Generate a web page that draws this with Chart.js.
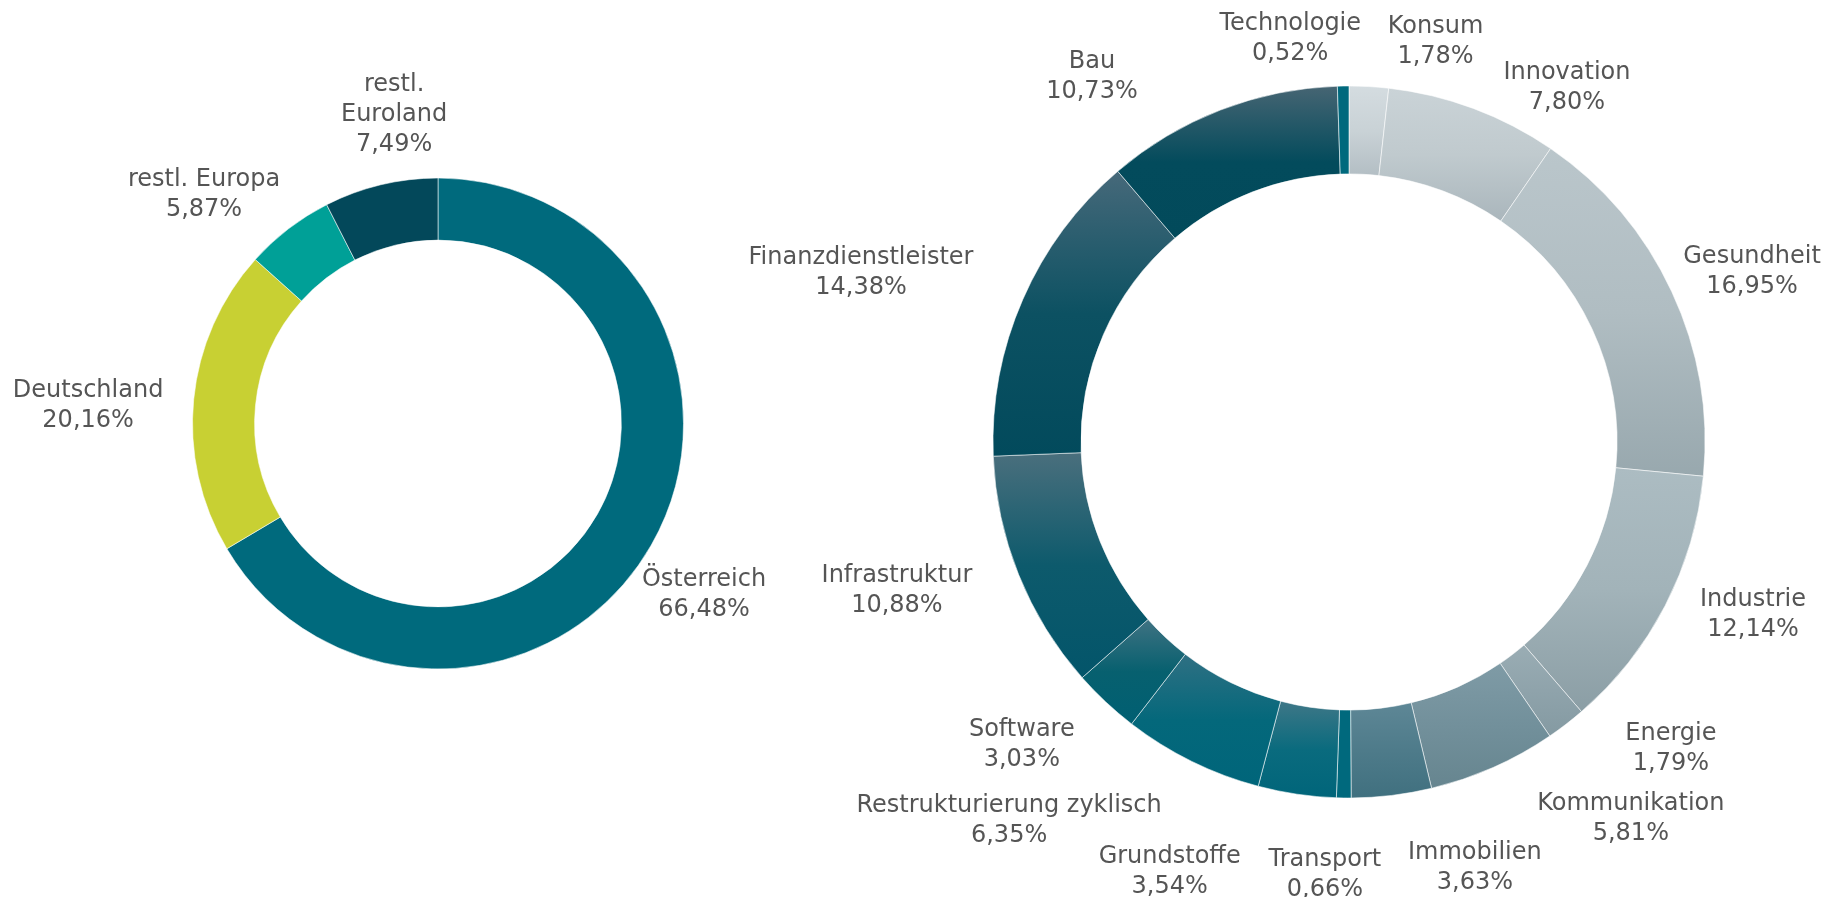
<!DOCTYPE html>
<html>
<head>
<meta charset="utf-8">
<script src="https://cdn.jsdelivr.net/npm/chart.js@4.4.1/dist/chart.umd.min.js"></script>
<style>
  html, body { margin: 0; padding: 0; background: #ffffff; overflow: hidden; }
  #wrap { position: relative; width: 1827px; height: 897px; }
  #wrap canvas { position: absolute; left: 0; top: 0; }
</style>
</head>
<body>
<div id="wrap">
  <canvas id="regions" width="1827" height="897"></canvas>
  <canvas id="sectors" width="1827" height="897"></canvas>
</div>
<script>
// ---------- DATA ----------
const regionCategories = ['Österreich', 'Deutschland', 'restl. Europa', ['restl.', 'Euroland']];
const regionValues = [66.48, 20.16, 5.87, 7.49];

const sectorCategories = ['Konsum', 'Innovation', 'Gesundheit', 'Industrie', 'Energie', 'Kommunikation',
  'Immobilien', 'Transport', 'Grundstoffe', 'Restrukturierung zyklisch', 'Software', 'Infrastruktur',
  'Finanzdienstleister', 'Bau', 'Technologie'];
const sectorValues = [1.78, 7.80, 16.95, 12.14, 1.79, 5.81, 3.63, 0.66, 3.54, 6.35, 3.03, 10.88, 14.38, 10.73, 0.52];

// ---------- STYLE ----------
const regionColors = ['#006A7D', '#C8D033', '#00A097', '#03485A'];
const sectorTop    = ['#D4DCE0','#CAD3D7','#BAC6CB','#ACBCC2','#9AADB4','#7F9BA6','#5E8796','#00697D','#3E7787','#2F7083','#3F7282','#4A6F7D','#46697A','#466573','#00697D'];
const sectorMid    = ['#C9D2D6','#C0CACE','#B0BDC2','#A2B3B9','#8FA3AB','#72909B','#4E7B8A','#00697D','#0A6B7E','#04687B','#07606F','#0D5A6C','#0C5162','#034B5C','#00697D'];
const sectorBottom = ['#B3BEC4','#AAB6BC','#98A8AE','#8B9EA5','#849AA2','#66858F','#40707F','#00697D','#00657A','#00657A','#005F72','#03556A','#024A5C','#024A5B','#00697D'];

// label placement relative to each slice's mid-angle (degrees shift, px beyond outer radius)
const regionLabelShift = [2.7, -2.25, -7.8, 5.46];
const regionLabelGap   = [69.5, 105, 83.5, 69.1];
const sectorLabelShift = [8.9, 10.95, 1.77, -4.56, -9.08, -13.12, -9.69, 2.37, 14.4, 15.9, 4.4, 4.0, -4.2, -13.7, -7.3];
const sectorLabelGap   = [56.7, 62.3, 82.6, 82.3, 86.8, 112.4, 85.4, 74.2, 106.7, 150.9, 87.8, 119, 161.4, 93.4, 54.3];

const FONT_FAMILY = '"DejaVu Sans", Verdana, sans-serif';
const FONT_SIZE = 24;
const LINE_HEIGHT = 30;
const TEXT_BASELINE_NUDGE = 3;
const TEXT_COLOR = '#555555';

function fmtPct(v) { return v.toFixed(2).replace('.', ',') + '%'; }

function makeLabelPlugin(shift, gap) {
  return {
    id: 'outerLabels',
    afterDatasetsDraw(chart) {
      const meta = chart.getDatasetMeta(0);
      const ctx = chart.ctx;
      ctx.save();
      ctx.font = FONT_SIZE + 'px ' + FONT_FAMILY;
      ctx.fillStyle = TEXT_COLOR;
      ctx.textAlign = 'center';
      ctx.textBaseline = 'middle';
      meta.data.forEach((arc, i) => {
        const p = arc.getProps(['x', 'y', 'startAngle', 'endAngle', 'outerRadius'], true);
        const a = (p.startAngle + p.endAngle) / 2 + shift[i] * Math.PI / 180;
        const d = p.outerRadius + gap[i];
        const cx = p.x + d * Math.cos(a);
        const cy = p.y + d * Math.sin(a) + TEXT_BASELINE_NUDGE;
        const name = chart.data.labels[i];
        const lines = (Array.isArray(name) ? name.slice() : [name]);
        lines.push(fmtPct(chart.data.datasets[0].data[i]));
        lines.forEach((t, k) => {
          ctx.fillText(t, cx, cy + (k - (lines.length - 1) / 2) * LINE_HEIGHT);
        });
      });
      ctx.restore();
    }
  };
}

// vertical gradient spanning each annular sector's own bounding box
function sectorGradient(context) {
  const i = context.dataIndex;
  const chart = context.chart;
  const area = chart.chartArea;
  const ctrl = chart.getDatasetMeta(context.datasetIndex).controller;
  if (!area || !ctrl || !ctrl.outerRadius) return sectorBottom[i];
  const outer = ctrl.outerRadius, inner = ctrl.innerRadius;
  const cy = (area.top + area.bottom) / 2;
  const data = context.dataset.data;
  const total = data.reduce((s, v) => s + v, 0);
  let cum = 0;
  for (let k = 0; k < i; k++) cum += data[k];
  const a0 = -Math.PI / 2 + 2 * Math.PI * cum / total;
  const a1 = a0 + 2 * Math.PI * data[i] / total;
  const ys = [outer * Math.sin(a0), outer * Math.sin(a1), inner * Math.sin(a0), inner * Math.sin(a1)];
  if (a0 <= Math.PI / 2 && a1 >= Math.PI / 2) ys.push(outer);
  if (a0 <= -Math.PI / 2 + 1e-9 || (a0 <= 1.5 * Math.PI && a1 >= 1.5 * Math.PI)) ys.push(-outer);
  const top = cy + Math.min(...ys);
  const bottom = cy + Math.max(...ys);
  const g = chart.ctx.createLinearGradient(0, top, 0, Math.max(bottom, top + 1));
  g.addColorStop(0, sectorTop[i]);
  g.addColorStop(0.5, sectorMid[i]);
  g.addColorStop(1, sectorBottom[i]);
  return g;
}

function draw() {
  new Chart(document.getElementById('regions'), {
    type: 'doughnut',
    data: {
      labels: regionCategories,
      datasets: [{
        data: regionValues,
        backgroundColor: regionColors,
        borderColor: 'rgba(255,255,255,0.55)',
        borderWidth: 1
      }]
    },
    options: {
      responsive: false,
      animation: false,
      radius: 245.5,
      cutout: '74.7%',
      layout: { padding: { left: 138, right: 1089, top: 123.5, bottom: 173.5 } },
      plugins: { legend: { display: false }, tooltip: { enabled: false } },
      events: []
    },
    plugins: [makeLabelPlugin(regionLabelShift, regionLabelGap)]
  });

  new Chart(document.getElementById('sectors'), {
    type: 'doughnut',
    data: {
      labels: sectorCategories,
      datasets: [{
        data: sectorValues,
        backgroundColor: sectorGradient,
        borderColor: 'rgba(255,255,255,0.55)',
        borderWidth: 1
      }]
    },
    options: {
      responsive: false,
      animation: false,
      radius: 356,
      cutout: '75.3%',
      layout: { padding: { left: 949, right: 78, top: 42, bottom: 55 } },
      plugins: { legend: { display: false }, tooltip: { enabled: false } },
      events: []
    },
    plugins: [makeLabelPlugin(sectorLabelShift, sectorLabelGap)]
  });
}

if (document.fonts && document.fonts.load) {
  document.fonts.load(FONT_SIZE + 'px "DejaVu Sans"').then(draw, draw);
} else {
  draw();
}
</script>
</body>
</html>
